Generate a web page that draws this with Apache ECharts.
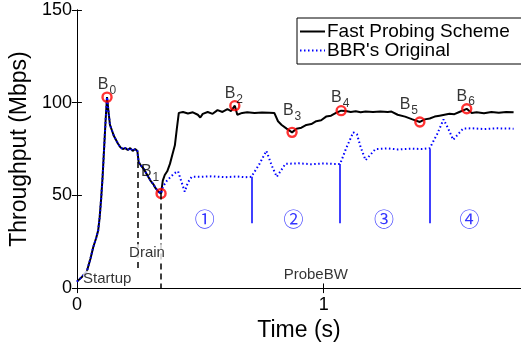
<!DOCTYPE html>
<html>
<head>
<meta charset="utf-8">
<script src="https://cdn.jsdelivr.net/npm/echarts@6/dist/echarts.min.js"></script>
<style>
  html, body { margin: 0; padding: 0; background: #fff; }
  #main { width: 521px; height: 347px; }
</style>
</head>
<body>
<div id="main"></div>
<script>
// throughput traces, [time (s), Mbps]
var fastProbe = [
  [0, 3.5], [0.02, 6], [0.04, 9], [0.055, 16], [0.066, 22], [0.078, 27], [0.086, 31],
  [0.092, 38], [0.098, 48], [0.104, 60], [0.11, 75], [0.116, 90], [0.122, 103],
  [0.128, 95], [0.134, 88], [0.142, 85], [0.15, 82], [0.158, 80], [0.166, 78],
  [0.176, 76], [0.186, 75], [0.196, 75.5], [0.206, 74.5], [0.216, 75.5], [0.226, 74],
  [0.236, 75], [0.245, 74], [0.25, 68], [0.26, 66], [0.272, 64], [0.285, 61],
  [0.298, 58], [0.31, 56], [0.318, 54], [0.33, 52], [0.341, 51], [0.348, 58],
  [0.356, 61], [0.366, 63], [0.377, 67], [0.387, 72], [0.397, 77], [0.405, 86],
  [0.413, 94.5], [0.43, 95], [0.45, 94.2], [0.47, 94.8], [0.49, 93.5], [0.5, 92],
  [0.51, 94], [0.53, 95], [0.55, 94], [0.57, 96], [0.59, 95], [0.61, 96.5],
  [0.625, 95.5], [0.64, 98.4], [0.65, 93.5], [0.67, 94.5], [0.69, 94.8], [0.72, 94.5],
  [0.75, 94.7], [0.78, 94.6], [0.8, 94.5], [0.815, 90], [0.83, 88], [0.85, 86],
  [0.872, 84], [0.89, 86], [0.91, 86.5], [0.93, 88], [0.95, 88.5], [0.97, 90],
  [0.99, 90.5], [1.01, 92.5], [1.03, 93], [1.05, 94.5], [1.071, 95.7], [1.09, 95.5],
  [1.11, 95], [1.13, 95.4], [1.15, 94.8], [1.17, 95.2], [1.2, 95], [1.23, 95.3],
  [1.26, 95], [1.275, 95.2], [1.3, 93.5], [1.33, 92.5], [1.36, 91], [1.39, 89.6],
  [1.41, 91], [1.43, 91.5], [1.45, 92.5], [1.47, 93], [1.49, 93.5], [1.51, 94],
  [1.53, 93.8], [1.55, 95], [1.58, 96.7], [1.6, 94.5], [1.62, 94.8], [1.65, 94.3],
  [1.68, 95], [1.71, 94.6], [1.74, 95], [1.77, 94.8]
];

var bbrOriginal = [
  [0, 3.5], [0.02, 6], [0.04, 9], [0.055, 16], [0.066, 22], [0.078, 27], [0.086, 31],
  [0.092, 38], [0.098, 48], [0.104, 60], [0.11, 75], [0.116, 90], [0.122, 103],
  [0.128, 95], [0.134, 88], [0.142, 85], [0.15, 82], [0.158, 80], [0.166, 78],
  [0.176, 76], [0.186, 75], [0.196, 75.5], [0.206, 74.5], [0.216, 75.5], [0.226, 74],
  [0.236, 75], [0.245, 74], [0.25, 68], [0.26, 66], [0.272, 64], [0.285, 61],
  [0.298, 58], [0.31, 56], [0.318, 54], [0.33, 52], [0.341, 51], [0.35, 55],
  [0.365, 58], [0.38, 60], [0.395, 62], [0.41, 63], [0.422, 58], [0.437, 52],
  [0.45, 57], [0.465, 60], [0.5, 60], [0.55, 60.3], [0.6, 59.8], [0.65, 60.2],
  [0.68, 59.8], [0.707, 60], [0.74, 67], [0.768, 74], [0.79, 66], [0.81, 60],
  [0.825, 63], [0.845, 67], [0.9, 67.3], [0.95, 66.8], [1.0, 67.2], [1.04, 67],
  [1.067, 67], [1.09, 75], [1.12, 84], [1.135, 83], [1.15, 76], [1.17, 69],
  [1.19, 72], [1.21, 75], [1.26, 75.3], [1.3, 74.8], [1.36, 75.2], [1.4, 75],
  [1.43, 75.5], [1.46, 83], [1.486, 91], [1.505, 86], [1.525, 80], [1.545, 83],
  [1.565, 86], [1.6, 86.2], [1.65, 85.8], [1.7, 86.2], [1.77, 86]
];

// B_i points (probe peaks / troughs)
var bIndex = ['0', '1', '2', '3', '4', '5', '6'];
var bT = [0.122, 0.341, 0.64, 0.872, 1.071, 1.39, 1.58];
var bV = [103, 51, 98.4, 84, 95.7, 89.6, 96.7];

// phase markers
var drainT = [0.245, 0.341];
var drainTop = [68, 51];
var drainBottom = [10, 0];
var cycleT = [0.707, 1.067, 1.43];
var cycleTop = [60, 67, 75];
var cycleBottom = 35;

// annotations
var noteText = ['Startup', 'Drain', 'ProbeBW'];
var noteT = [0.123, 0.284, 0.968];
var noteV = [4.8, 19, 7];
var cycleText = ['①', '②', '③', '④'];
var cycleLabelT = [0.518, 0.878, 1.245, 1.591];
var cycleLabelV = 37;

var FONT = 'Liberation Sans, Arial, Helvetica, sans-serif';
// label offsets for the B markers (pixels)
var bOffsets = [[0, 4], [-11, -5], [-1, 5], [0, -5], [-1, 4], [-11, -1], [-1, 4]];

var chart = echarts.init(document.getElementById('main'), null, { renderer: 'canvas' });

var bData = bT.map(function (t, i) {
  return { name: bIndex[i], value: [t, bV[i]], label: { offset: bOffsets[i] } };
});

var noteData = noteT.map(function (t, i) {
  return { name: noteText[i], value: [t, noteV[i]] };
});
var cycleData = cycleLabelT.map(function (t, i) {
  return { name: cycleText[i], value: [t, cycleLabelV] };
});

var drainLines = drainT.map(function (t, i) {
  return [{ coord: [t, drainTop[i]] }, { coord: [t, drainBottom[i]] }];
});
var cycleLines = cycleT.map(function (t, i) {
  return [{ coord: [t, cycleTop[i]] }, { coord: [t, cycleBottom] }];
});

var tickStyle = { inside: true, length: 5, lineStyle: { color: '#000', width: 1 } };

chart.setOption({
  animation: false,
  backgroundColor: '#fff',
  textStyle: { fontFamily: FONT, color: '#000' },
  grid: { left: 75, top: 10, right: -6, bottom: 58 },
  legend: {
    orient: 'vertical',
    left: 297,
    top: 18,
    width: 222,
    padding: [4, 30, 4, 2],
    itemGap: 0,
    itemWidth: 25,
    itemHeight: 21,
    borderColor: '#000',
    borderWidth: 1,
    backgroundColor: '#fff',
    itemStyle: { opacity: 0 },
    textStyle: { fontFamily: FONT, fontSize: 19, color: '#000', padding: [0, 0, 0, -3] },
    data: ['Fast Probing Scheme', "BBR's Original"]
  },
  xAxis: [{
    type: 'value', min: 0, max: 1.8, interval: 1,
    name: 'Time (s)', nameLocation: 'middle', nameGap: 27,
    nameTextStyle: { fontFamily: FONT, fontSize: 23, color: '#000' },
    axisLine: { lineStyle: { color: '#000', width: 1 } },
    axisTick: tickStyle,
    axisLabel: { fontFamily: FONT, fontSize: 18, color: '#000', margin: 8, showMaxLabel: false },
    splitLine: { show: false }
  }, {
    type: 'value', min: 0, max: 1.8, interval: 1, position: 'top',
    axisLine: { lineStyle: { color: '#000', width: 1 } },
    axisTick: tickStyle,
    axisLabel: { show: false },
    splitLine: { show: false }
  }],
  yAxis: [{
    type: 'value', min: 0, max: 150, interval: 50,
    name: 'Throughput (Mbps)', nameLocation: 'middle', nameGap: 41,
    nameTextStyle: { fontFamily: FONT, fontSize: 23, color: '#000' },
    axisLine: { show: true, lineStyle: { color: '#000', width: 1 } },
    axisTick: tickStyle,
    axisLabel: { fontFamily: FONT, fontSize: 18, color: '#000', margin: 5 },
    splitLine: { show: false }
  }, {
    type: 'value', min: 0, max: 150, interval: 50, position: 'right',
    axisLine: { show: true, lineStyle: { color: '#000', width: 1 } },
    axisTick: tickStyle,
    axisLabel: { show: false },
    splitLine: { show: false }
  }],
  series: [{
    name: 'Fast Probing Scheme',
    type: 'line',
    data: fastProbe,
    symbol: 'none',
    color: '#000',
    lineStyle: { color: '#000', width: 2 },
    z: 2,
    markLine: {
      silent: true,
      symbol: 'none',
      label: { show: false },
      lineStyle: { color: '#000', width: 1.5, type: [6, 4] },
      data: drainLines
    }
  }, {
    name: "BBR's Original",
    type: 'line',
    data: bbrOriginal,
    symbol: 'none',
    color: '#0000ff',
    lineStyle: { color: '#0000ff', width: 2, type: [1.5, 2.5] },
    z: 3,
    markLine: {
      silent: true,
      symbol: 'none',
      label: { show: false },
      lineStyle: { color: '#0000ff', width: 1.5, type: 'solid' },
      data: cycleLines
    }
  }, {
    name: 'B',
    type: 'scatter',
    data: bData,
    symbol: 'circle',
    symbolSize: 9,
    z: 4,
    itemStyle: { color: 'rgba(0,0,0,0)', borderColor: '#ff0000', borderWidth: 2.4 },
    label: {
      show: true,
      position: 'top',
      distance: 3,
      formatter: function (p) { return '{b|B}{s|' + p.name + '}'; },
      rich: {
        b: { fontFamily: FONT, fontSize: 16, color: '#000', lineHeight: 16, verticalAlign: 'top' },
        s: { fontFamily: FONT, fontSize: 12, color: '#000', lineHeight: 12, padding: [8, 0, 0, 1], verticalAlign: 'top' }
      }
    }
  }, {
    name: 'notes',
    type: 'scatter',
    data: noteData,
    symbolSize: 0,
    silent: true,
    z: 5,
    label: {
      show: true, position: 'inside', formatter: '{b}',
      fontFamily: FONT, fontSize: 15, color: '#000',
      backgroundColor: '#fff', padding: [1, 0, 1, 0]
    }
  }, {
    name: 'cycles',
    type: 'scatter',
    data: cycleData,
    symbolSize: 0,
    silent: true,
    z: 5,
    label: {
      show: true, position: 'inside', formatter: '{b}',
      fontFamily: 'Noto Sans CJK SC, DejaVu Sans, sans-serif', fontSize: 20, color: '#0000ff'
    }
  }]
});
</script>
</body>
</html>
